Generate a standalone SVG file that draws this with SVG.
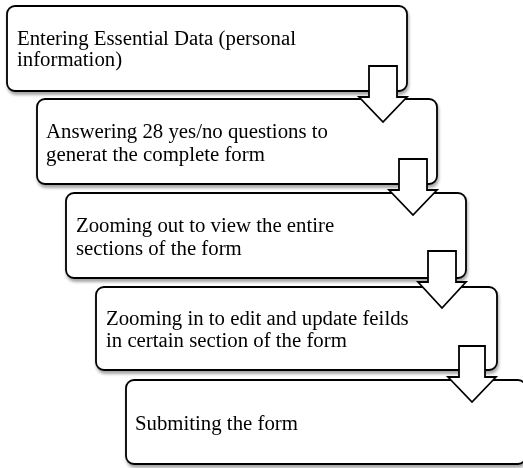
<svg xmlns="http://www.w3.org/2000/svg" width="523" height="468" viewBox="0 0 523 468">
<defs>
<filter id="sh" x="-5%" y="-10%" width="115%" height="130%">
<feGaussianBlur in="SourceAlpha" stdDeviation="1.5"/>
<feOffset dx="1" dy="3" result="b"/>
<feComponentTransfer><feFuncA type="linear" slope="0.35"/></feComponentTransfer>
<feMerge><feMergeNode/><feMergeNode in="SourceGraphic"/></feMerge>
</filter>
<style>
.box{fill:#fff;stroke:#000;stroke-width:1.8}
.t{font-family:"Liberation Serif","Times New Roman",serif;font-size:20.8px;fill:#000}
.arr{fill:#fff;stroke:#000;stroke-width:1.8;stroke-linejoin:miter}
</style>
</defs>
<rect width="523" height="468" fill="#fff"/>
<g id="node1" filter="url(#sh)"><rect class="box" x="7" y="6" width="400" height="85" rx="8"/>
<text class="t" x="17" y="45">Entering Essential Data (personal</text>
<text class="t" x="17" y="66">information)</text></g>
<g id="node2" filter="url(#sh)"><rect class="box" x="37" y="99" width="400" height="85" rx="8"/>
<text class="t" x="46" y="138">Answering 28 yes/no questions to</text>
<text class="t" x="46" y="161">generat the complete form</text></g>
<g id="node3" filter="url(#sh)"><rect class="box" x="66" y="193" width="400" height="85" rx="8"/>
<text class="t" x="76" y="232">Zooming out to view the entire</text>
<text class="t" x="76" y="255">sections of the form</text></g>
<g id="node4" filter="url(#sh)"><rect class="box" x="96" y="287" width="401" height="83" rx="8"/>
<text class="t" x="106" y="325">Zooming in to edit and update feilds</text>
<text class="t" x="106" y="347">in certain section of the form</text></g>
<g id="node5" filter="url(#sh)"><rect class="box" x="126" y="380" width="400" height="84" rx="8"/>
<text class="t" x="135" y="430">Submiting the form</text></g>
<g id="connectors">
<path class="arr" d="M369,66 H397 V97 H407 L383,122 L359,97 H369 Z"/>
<path class="arr" d="M399,159 H427 V190 H437 L413,215 L389,190 H399 Z"/>
<path class="arr" d="M428,251 H456 V282 H466 L442,308 L418,282 H428 Z"/>
<path class="arr" d="M459,346 H485 V377 H496 L472,402 L448,377 H459 Z"/>
</g>
</svg>
